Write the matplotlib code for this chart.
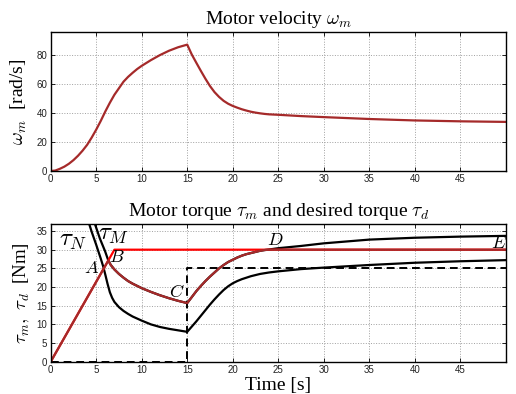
import matplotlib
matplotlib.use("Agg")
import matplotlib.pyplot as plt

plt.rcParams['font.family'] = ['Liberation Serif', 'DejaVu Serif']
plt.rcParams['mathtext.fontset'] = 'cm'

# ---- Top panel: motor velocity ----
t_vel = [0, 0.5, 1, 1.5, 2, 2.5, 3, 3.5, 4, 4.5, 5, 5.5, 6, 6.5, 7, 7.5, 8, 8.5, 9, 9.5, 10,
         11, 12, 13, 14, 15,
         15.5, 16, 16.5, 17, 17.5, 18, 18.5, 19, 19.5, 20, 20.5, 21, 21.5, 22, 22.5, 23, 23.5, 24, 25,
         27.5, 30, 35, 40, 45, 50]
omega_m = [0, 0.3, 1.5, 3, 5, 7.5, 10.5, 14, 18, 23, 28.5, 34.5, 41, 47, 52.5, 57, 61.5, 64.8, 67.6, 70.2, 72.4,
           76.3, 79.8, 82.8, 85.2, 87,
           80.2, 74.5, 68.9, 63.5, 58.5, 54.3, 51.0, 48.3, 46.3, 44.8, 43.6, 42.5, 41.6, 40.8, 40.2, 39.7, 39.3, 39.0, 38.7,
           37.8, 37.1, 35.8, 34.8, 34.2, 33.8]

# ---- Bottom panel: torques ----
t_d = [0, 7, 50]
tau_d = [0, 30, 30]

t_m = [0, 6.33, 6.6, 7, 7.5, 8, 8.5, 9, 9.5, 10, 11, 12, 13, 14, 15,
       15.5, 16, 16.5, 17, 17.5, 18, 18.5, 19, 19.5, 20, 20.5, 21, 21.5, 22, 22.5, 23, 23.5, 24, 50]
tau_m = [0, 27.1, 25.9, 24.7, 23.5, 22.5, 21.6, 20.9, 20.3, 19.7, 18.7, 17.8, 17.0, 16.3, 15.7,
         17.3, 18.9, 20.3, 21.6, 22.8, 23.9, 25.0, 25.9, 26.7, 27.3, 27.9, 28.4, 28.8, 29.1, 29.4, 29.7, 29.9, 30.0, 30.0]

t_M = [4.6, 4.87, 5.4, 5.97, 6.33, 6.6, 7, 7.5, 8, 8.5, 9, 9.5, 10, 11, 12, 13, 14, 15,
       15.5, 16, 16.5, 17, 17.5, 18, 18.5, 19, 19.5, 20, 20.5, 21, 21.5, 22, 22.5, 23, 23.5, 24,
       25, 27.5, 30, 35, 40, 45, 50]
tau_M = [38.7, 36.8, 33.0, 29.6, 27.1, 25.9, 24.7, 23.5, 22.5, 21.6, 20.9, 20.3, 19.7, 18.7, 17.8, 17.0, 16.3, 15.7,
         17.3, 18.9, 20.3, 21.6, 22.8, 23.9, 25.0, 25.9, 26.7, 27.3, 27.9, 28.4, 28.8, 29.1, 29.4, 29.7, 29.9, 30.05,
         30.4, 31.0, 31.7, 32.7, 33.2, 33.5, 33.7]

t_N = [4.0, 4.24, 4.5, 5.0, 5.5, 5.78, 6.0, 6.25, 6.5, 6.75, 7.0, 7.5, 8, 8.5, 9, 10, 11, 12, 13, 14, 15,
       15.5, 16, 16.5, 17, 17.5, 18, 18.5, 19, 19.5, 20, 20.5, 21, 22, 23, 24, 25, 27.5, 30, 35, 40, 45, 50]
tau_N = [38.5, 36.8, 34.8, 31.3, 27.6, 25.4, 23.3, 20.8, 18.6, 17.1, 16.0, 14.6, 13.6, 12.8, 12.1, 11.0, 10.0, 9.3, 8.8, 8.4, 8.0,
         9.4, 10.8, 12.3, 13.8, 15.3, 16.7, 18.0, 19.2, 20.2, 21.0, 21.6, 22.1, 22.9, 23.5, 23.9, 24.2, 24.8, 25.2, 25.9, 26.5, 26.9, 27.2]

t_load = [0, 15, 15, 50]
tau_load = [0, 0, 25, 25]

xticks = [0, 5, 10, 15, 20, 25, 30, 35, 40, 45]
yticks_top = [0, 20, 40, 60, 80]
yticks_bot = [0, 5, 10, 15, 20, 25, 30, 35]

labels = ['$\\tau_N$', '$\\tau_M$', '$A$', '$B$', '$C$', '$D$', '$E$']
label_t = [2.45, 6.9, 4.5, 7.3, 13.85, 24.65, 49.2]
label_v = [32.3, 33.9, 25.0, 27.8, 18.5, 32.4, 31.7]
label_size = [18, 18, 13, 13, 13, 13, 13]

brown = '#a52a2a'
red = '#ff0000'

fig = plt.figure(figsize=(5.16, 3.94), dpi=100)
ax1 = fig.add_axes([0.0983, 0.566, 0.8818, 0.3528])
ax2 = fig.add_axes([0.0983, 0.082, 0.8818, 0.3487])


def style(ax, yticks, ymax):
    ax.set_xlim(0, 50)
    ax.set_ylim(0, ymax)
    ax.set_xticks(xticks)
    ax.set_yticks(yticks)
    ax.grid(True, linestyle=':', color='#a0a0a0', linewidth=0.7)
    ax.tick_params(direction='in', length=3, width=0.6, top=True, right=True,
                   labelsize=7, pad=2.5, labelcolor='#222222')
    for lab in ax.get_xticklabels() + ax.get_yticklabels():
        lab.set_family('Liberation Sans')
    for s in ax.spines.values():
        s.set_linewidth(1.0)


ax1.plot(t_vel, omega_m, color=brown, lw=1.6)
style(ax1, yticks_top, 95.7)
ax1.set_title('Motor velocity $\\omega_m$', fontsize=14, pad=6)
ax1.set_ylabel('$\\omega_m$  [rad/s]', fontsize=14, labelpad=5)

ax2.plot(t_load, tau_load, color='black', lw=1.4, ls=(0, (4, 2.5)))
ax2.plot(t_N, tau_N, color='black', lw=1.6)
ax2.plot(t_M, tau_M, color='black', lw=1.6)
ax2.plot(t_d, tau_d, color=red, lw=1.6)
ax2.plot(t_m, tau_m, color=brown, lw=1.6)
style(ax2, yticks_bot, 36.8)
ax2.set_title('Motor torque $\\tau_m$ and desired torque $\\tau_d$', fontsize=14, pad=6)
ax2.set_ylabel('$\\tau_m,\\ \\tau_d$  [Nm]', fontsize=13.5, labelpad=3)
ax2.set_xlabel('Time [s]', fontsize=14, labelpad=1)

for s, tx, ty, fs in zip(labels, label_t, label_v, label_size):
    ax2.text(tx, ty, s, fontsize=fs, ha='center', va='center', clip_on=True, zorder=5)

fig.savefig('out.png', dpi=100)
